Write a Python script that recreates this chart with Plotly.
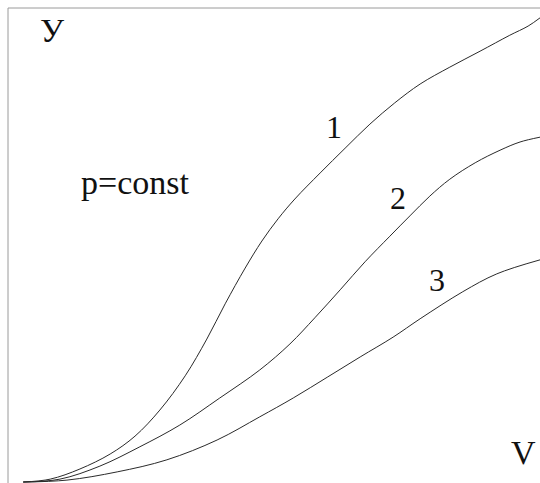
import plotly.graph_objects as go

# Specific volume V and the quantity У for three curves at constant pressure
v1 = [0.43, 0.93, 1.48, 2.04, 2.50, 2.96, 3.43, 3.83, 4.17, 4.54, 4.85, 5.15, 5.46, 5.93,
      6.39, 6.85, 7.31, 7.78, 8.33, 8.89, 9.44, 9.78, 10.0]
y1 = [0.02, 0.08, 0.29, 0.60, 0.97, 1.51, 2.22, 2.98, 3.71, 4.45, 5.01, 5.47, 5.88, 6.42,
      6.93, 7.43, 7.87, 8.26, 8.61, 8.94, 9.27, 9.46, 9.63]

v2 = [0.43, 1.11, 1.85, 2.59, 3.33, 4.07, 4.81, 5.37, 5.83, 6.30, 6.76, 7.22, 7.59, 7.96,
      8.33, 8.80, 9.26, 9.63, 10.0]
y2 = [0.02, 0.08, 0.35, 0.75, 1.20, 1.76, 2.34, 2.88, 3.42, 4.00, 4.58, 5.11, 5.53, 5.94,
      6.29, 6.63, 6.89, 7.06, 7.16]

v3 = [0.43, 1.24, 2.17, 3.09, 4.02, 4.81, 5.43, 6.06, 6.67, 7.28, 7.78, 8.57, 9.20, 10.0]
y3 = [0.02, 0.06, 0.23, 0.48, 0.89, 1.37, 1.76, 2.19, 2.61, 3.02, 3.40, 3.96, 4.33, 4.62]

curve_labels = ["1", "2", "3"]
label_pos = [(6.19, 7.38), (7.37, 5.90), (8.09, 4.20)]

SERIF = "Liberation Serif"

fig = go.Figure()
for vx, yy in [(v1, y1), (v2, y2), (v3, y3)]:
    fig.add_trace(go.Scatter(
        x=vx, y=yy, mode="lines",
        line=dict(color="#2a2a2a", width=1, shape="spline", smoothing=1.0),
        hoverinfo="skip", showlegend=False,
    ))

for text, (lx, ly) in zip(curve_labels, label_pos):
    fig.add_annotation(x=lx, y=ly, xref="x", yref="y", text=text, showarrow=False,
                       font=dict(family=SERIF, size=32, color="#111"),
                       xanchor="center", yanchor="middle")

fig.add_annotation(x=52 / 540, y=1 - 30 / 483, xref="paper", yref="paper", text="У",
                   showarrow=False, font=dict(family=SERIF, size=34, color="#111"),
                   xanchor="center", yanchor="middle")
fig.add_annotation(x=523 / 540, y=1 - 452 / 483, xref="paper", yref="paper", text="V",
                   showarrow=False, font=dict(family=SERIF, size=34, color="#111"),
                   xanchor="center", yanchor="middle")
fig.add_annotation(x=135 / 540, y=1 - 183 / 483, xref="paper", yref="paper", text="p=const",
                   showarrow=False, font=dict(family=SERIF, size=34, color="#111"),
                   xanchor="center", yanchor="middle")

# frame: top and left edges only
fig.add_shape(type="line", xref="paper", yref="paper",
              x0=8 / 540, x1=1, y0=1 - 8 / 483, y1=1 - 8 / 483,
              line=dict(color="#9a9a9a", width=1))
fig.add_shape(type="line", xref="paper", yref="paper",
              x0=8 / 540, x1=8 / 540, y0=0, y1=1 - 8 / 483,
              line=dict(color="#9a9a9a", width=1))

fig.update_xaxes(range=[0, 10], visible=False, fixedrange=True)
fig.update_yaxes(range=[0, 10], visible=False, fixedrange=True)
fig.update_layout(
    width=540, height=483,
    margin=dict(l=0, r=0, t=0, b=0),
    paper_bgcolor="white", plot_bgcolor="white",
)

fig.write_html("out.html", config={"displayModeBar": False})
